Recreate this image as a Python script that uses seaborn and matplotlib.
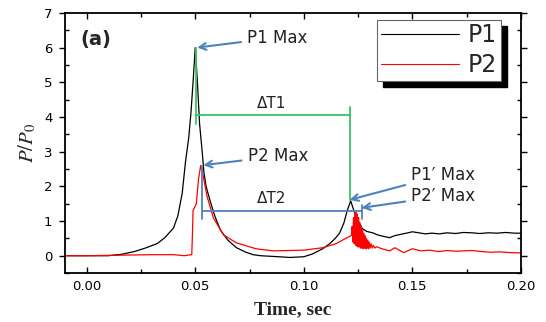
import numpy as np
import pandas as pd
import seaborn as sns
import matplotlib.pyplot as plt
from matplotlib.patches import Rectangle
from matplotlib.ticker import MultipleLocator

# P1 (black) - pressure ratio vs time
t1 = [-0.010, 0.000, 0.010, 0.016, 0.022, 0.027, 0.0325, 0.036, 0.040, 0.042,
      0.044, 0.0455, 0.047, 0.048, 0.049, 0.050, 0.051, 0.052, 0.0532, 0.054,
      0.055, 0.057, 0.059, 0.0615, 0.065, 0.069, 0.073, 0.0766, 0.080, 0.0858,
      0.0936, 0.100, 0.104, 0.1087, 0.112, 0.1145, 0.1165, 0.1185, 0.120, 0.1216,
      0.1228, 0.124, 0.1255, 0.127, 0.129, 0.1317, 0.134, 0.1365, 0.1395, 0.142,
      0.145, 0.148, 0.150, 0.153, 0.156, 0.159, 0.1624, 0.166, 0.170, 0.1735,
      0.1775, 0.181, 0.185, 0.189, 0.193, 0.197, 0.200]
p1 = [0.00, 0.00, 0.00, 0.04, 0.12, 0.22, 0.35, 0.52, 0.80, 1.15,
      1.80, 2.70, 3.40, 4.10, 5.00, 6.00, 5.00, 3.80, 3.00, 2.40,
      2.00, 1.55, 1.15, 0.75, 0.45, 0.23, 0.11, 0.03, 0.00, -0.02,
      -0.05, -0.03, 0.05, 0.20, 0.35, 0.50, 0.65, 0.95, 1.30, 1.58,
      1.35, 1.15, 0.95, 0.78, 0.70, 0.66, 0.60, 0.56, 0.52, 0.58,
      0.62, 0.66, 0.69, 0.66, 0.63, 0.65, 0.63, 0.66, 0.64, 0.67,
      0.66, 0.64, 0.66, 0.65, 0.67, 0.65, 0.65]

# P2 (red)
t2 = [-0.010, 0.000, 0.010, 0.020, 0.030, 0.040, 0.045, 0.047, 0.0484, 0.0487,
      0.049, 0.0505, 0.0515, 0.0525, 0.0535, 0.0555, 0.0583, 0.063, 0.069, 0.078,
      0.0858, 0.0936, 0.100, 0.1087, 0.115, 0.119, 0.1216,
      0.1220, 0.1223, 0.1226, 0.1229, 0.1232, 0.1235, 0.1238, 0.1241, 0.1244, 0.1247,
      0.1250, 0.1253, 0.1256, 0.1259, 0.1262, 0.1265, 0.1268, 0.1271, 0.1274, 0.1277,
      0.1280, 0.1283, 0.1286, 0.1289, 0.1292, 0.1295, 0.1298, 0.1301, 0.1305, 0.1310,
      0.1315, 0.1320, 0.1327, 0.1335,
      0.136, 0.1395, 0.142, 0.146, 0.150, 0.154, 0.158, 0.162, 0.166, 0.170,
      0.1775, 0.182, 0.186, 0.190, 0.195, 0.200]
p2 = [0.00, 0.00, 0.01, 0.02, 0.03, 0.03, 0.00, 0.02, 0.03, 0.60,
      1.30, 1.50, 2.20, 2.60, 2.35, 1.70, 1.10, 0.60, 0.37, 0.20,
      0.14, 0.15, 0.16, 0.23, 0.35, 0.49, 0.57,
      0.60, 0.85, 0.40, 1.10, 0.35, 1.25, 0.30, 1.30, 0.28, 1.20,
      0.25, 1.10, 0.25, 0.95, 0.22, 0.85, 0.22, 0.75, 0.20, 0.65,
      0.22, 0.58, 0.20, 0.50, 0.22, 0.45, 0.20, 0.40, 0.22, 0.35,
      0.22, 0.30, 0.22, 0.26,
      0.20, 0.14, 0.23, 0.09, 0.20, 0.14, 0.16, 0.12, 0.15, 0.13,
      0.15, 0.12, 0.10, 0.11, 0.09, 0.08]

# annotation guides
dT1_x = [0.0502, 0.1213]
dT1_y = 4.05
dT2_x = [0.0533, 0.1266]
dT2_y = 1.30

sns.set_style("ticks")
plt.rcParams["font.family"] = ["DejaVu Sans"]
plt.rcParams["mathtext.fontset"] = "stix"

fig = plt.figure(figsize=(5.46, 3.22), dpi=100)
ax = fig.add_axes([0.119, 0.152, 0.835, 0.808])

df1 = pd.DataFrame({"t": t1, "p": p1})
df2 = pd.DataFrame({"t": t2, "p": p2})
sns.lineplot(data=df1, x="t", y="p", color="black", lw=0.9, label="P1", ax=ax)
sns.lineplot(data=df2, x="t", y="p", color="#ff0000", lw=0.9, label="P2", ax=ax)

green = "#3cc36a"
blue = "#4f81bd"
ax.plot([dT1_x[0]] * 2, [3.8, 6.0], color=green, lw=1.3)
ax.plot(dT1_x, [dT1_y] * 2, color=green, lw=1.3)
ax.plot([dT1_x[1]] * 2, [1.6, 4.3], color=green, lw=1.3)
ax.plot([dT2_x[0]] * 2, [1.05, 2.6], color=blue, lw=1.3)
ax.plot(dT2_x, [dT2_y] * 2, color=blue, lw=1.3)
ax.plot([dT2_x[1]] * 2, [1.07, 1.45], color=blue, lw=1.3)

ax.text(0.0785, 4.17, "ΔT1", fontsize=11, color="#222222", va="bottom")
ax.text(0.0785, 1.42, "ΔT2", fontsize=11, color="#222222", va="bottom")

arr = dict(arrowstyle="->", color=blue, lw=1.5, shrinkA=2, shrinkB=0)
tk = dict(fontsize=12, color="#222222", va="center", arrowprops=arr)
ax.annotate("P1 Max", xy=(0.0509, 6.0), xytext=(0.0739, 6.29), **tk)
ax.annotate("P2 Max", xy=(0.0537, 2.61), xytext=(0.0741, 2.87), **tk)
ax.annotate("P1\u2032 Max", xy=(0.1211, 1.61), xytext=(0.1495, 2.33), **tk)
ax.annotate("P2\u2032 Max", xy=(0.1266, 1.38), xytext=(0.1495, 1.72), **tk)

ax.text(0.033, 0.875, "(a)", transform=ax.transAxes, fontsize=14, fontweight="bold")

ax.set_xlim(-0.01, 0.20)
ax.set_ylim(-0.5, 7)
ax.xaxis.set_major_locator(MultipleLocator(0.05))
ax.xaxis.set_minor_locator(MultipleLocator(0.025))
ax.yaxis.set_major_locator(MultipleLocator(1))
ax.yaxis.set_minor_locator(MultipleLocator(0.5))
ax.set_xticks([0.0, 0.05, 0.10, 0.15, 0.20], ["0.00", "0.05", "0.10", "0.15", "0.20"])
ax.tick_params(which="both", direction="in", top=True, right=True, labelsize=9.5,
               width=1.0, colors="black")
ax.tick_params(which="major", length=4)
ax.tick_params(which="minor", length=3)
ax.tick_params(axis="y", which="major", direction="out")
ax.tick_params(axis="both", which="major", pad=5)
for s in ax.spines.values():
    s.set_linewidth(1.3)
    s.set_color("black")

ax.set_xlabel("Time, sec", family="Liberation Serif", fontweight="bold", fontsize=14,
              labelpad=6)
ax.set_ylabel(r"$P/P_0$", fontsize=15, labelpad=4)

leg = ax.legend(loc="upper right", bbox_to_anchor=(0.956, 0.973), fontsize=17,
                handlelength=3.3, handletextpad=0.4, labelspacing=0.25,
                borderpad=0.15, fancybox=False, framealpha=1, edgecolor="#666666",
                borderaxespad=0)
leg.get_frame().set_linewidth(0.8)
for h in leg.get_lines():
    h.set_linewidth(0.8)

fig.canvas.draw()
bb = leg.get_window_extent().transformed(fig.transFigure.inverted())
dx, dy = 6 / 546, 6 / 322
ax.add_patch(Rectangle((bb.x0 + dx, bb.y0 - dy), bb.width, bb.height,
                       transform=fig.transFigure, color="black", zorder=4.9,
                       clip_on=False))

fig.savefig("out.png", dpi=100)
